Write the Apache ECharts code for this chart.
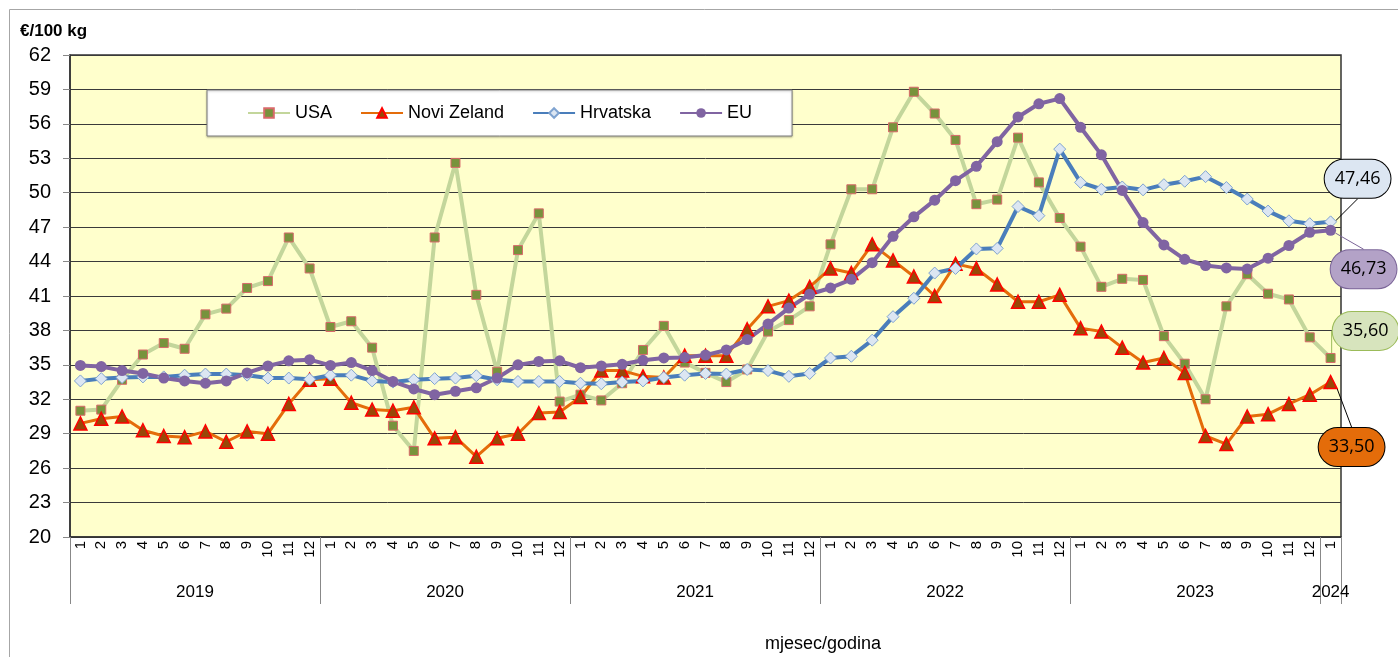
<!DOCTYPE html>
<html>
<head>
<meta charset="utf-8">
<script src="https://cdn.jsdelivr.net/npm/echarts@6/dist/echarts.min.js"></script>
<style>
  html, body { margin: 0; padding: 0; background: #fff; }
  #chart { width: 1398px; height: 657px; }
</style>
</head>
<body>
<div id="chart"></div>
<script>
// categories
const years = ['2019', '2020', '2021', '2022', '2023', '2024']
const monthsPerYear = [12, 12, 12, 12, 12, 1]
const yTicks = { min: 20, max: 62, step: 3 }

// series values (€/100 kg)
const usa = [31.0, 31.1, 33.7, 35.9, 36.9, 36.4, 39.4, 39.9, 41.7, 42.3, 46.1, 43.4,
  38.3, 38.8, 36.5, 29.7, 27.5, 46.1, 52.6, 41.1, 34.4, 45.0, 48.2, 31.8,
  32.4, 31.9, 33.4, 36.3, 38.4, 35.2, 34.3, 33.5, 34.6, 37.9, 38.9, 40.1,
  45.5, 50.3, 50.3, 55.7, 58.8, 56.9, 54.6, 49.0, 49.4, 54.8, 50.9, 47.8,
  45.3, 41.8, 42.5, 42.4, 37.5, 35.1, 32.0, 40.1, 42.9, 41.2, 40.7, 37.4, 35.60]
const noviZeland = [29.9, 30.3, 30.5, 29.3, 28.8, 28.7, 29.2, 28.3, 29.2, 29.0, 31.6, 33.7,
  33.8, 31.7, 31.1, 31.0, 31.3, 28.6, 28.7, 27.0, 28.6, 29.0, 30.8, 30.9,
  32.2, 34.5, 34.5, 34.0, 33.9, 35.8, 35.8, 35.8, 38.1, 40.1, 40.6, 41.8,
  43.4, 43.0, 45.5, 44.1, 42.7, 41.0, 43.8, 43.4, 42.0, 40.5, 40.5, 41.1,
  38.2, 37.9, 36.5, 35.2, 35.6, 34.3, 28.8, 28.1, 30.5, 30.7, 31.6, 32.4, 33.50]
const hrvatska = [33.6, 33.8, 33.9, 33.95, 33.95, 34.1, 34.2, 34.2, 34.1, 33.85, 33.85, 33.75,
  34.1, 34.1, 33.6, 33.5, 33.7, 33.8, 33.85, 34.05, 33.7, 33.55, 33.55, 33.55,
  33.4, 33.35, 33.5, 33.6, 33.9, 34.1, 34.25, 34.2, 34.6, 34.5, 34.0, 34.25,
  35.6, 35.75, 37.15, 39.2, 40.8, 43.0, 43.4, 45.1, 45.15, 48.8, 48.0, 53.8,
  50.9, 50.3, 50.5, 50.25, 50.7, 51.0, 51.4, 50.45, 49.45, 48.4, 47.55, 47.3, 47.46]
const eu = [34.95, 34.85, 34.5, 34.25, 33.85, 33.6, 33.4, 33.6, 34.3, 34.9, 35.35, 35.45,
  34.95, 35.2, 34.5, 33.55, 32.9, 32.4, 32.7, 33.0, 33.85, 35.0, 35.3, 35.35,
  34.75, 34.9, 35.05, 35.4, 35.6, 35.65, 35.85, 36.3, 37.2, 38.55, 39.95, 41.15,
  41.7, 42.45, 43.9, 46.2, 47.9, 49.35, 51.05, 52.3, 54.45, 56.6, 57.75, 58.2,
  55.7, 53.3, 50.2, 47.4, 45.45, 44.2, 43.65, 43.45, 43.35, 44.3, 45.4, 46.55, 46.73]

// month labels and year boundaries built from the arrays above
const months = []
const yearBounds = [0]
const yearMids = []
monthsPerYear.forEach(n => {
  for (let m = 1; m <= n; m++) months.push(String(m))
  const start = yearBounds[yearBounds.length - 1]
  yearMids.push(start + n / 2)
  yearBounds.push(start + n)
})
const total = months.length

const fmt = v => v.toFixed(2).replace('.', ',')

// show a callout only on the last point of a series
function withCallout(values, bg, border, dx, dy) {
  return {
    data: values.map((v, i) => i < values.length - 1 ? v : {
      value: v,
      label: {
        show: true,
        position: 'inside',
        formatter: fmt(v),
        color: '#000',
        fontFamily: 'Open Sans',
        fontSize: 18,
        backgroundColor: bg,
        borderColor: border,
        borderWidth: 1,
        borderRadius: 21,
        padding: [10, 10, 10, 10]
      }
    }),
    labelLayout: { dx: dx, dy: dy },
    labelLine: { show: true, lineStyle: { color: border, width: 1 } }
  }
}

const chart = echarts.init(document.getElementById('chart'))

chart.setOption({
  animation: false,
  textStyle: { fontFamily: 'Liberation Sans' },
  graphic: [{
    type: 'rect',
    left: 7, top: 7,
    shape: { width: 1420, height: 680 },
    style: { fill: 'none', stroke: '#a6a6a6', lineWidth: 1 },
    silent: true
  }],
  title: [
    { text: '€/100 kg', left: 15, top: 18, textStyle: { fontSize: 17, fontWeight: 'bold', color: '#000', fontFamily: 'Liberation Sans' } },
    { text: 'mjesec/godina', left: 760, top: 630, textStyle: { fontSize: 18, fontWeight: 'normal', color: '#000', fontFamily: 'Liberation Sans' } }
  ],
  legend: {
    left: 207,
    top: 90,
    padding: [14, 40, 14, 40],
    itemGap: 28,
    itemWidth: 42,
    itemHeight: 12,
    backgroundColor: '#fff',
    borderColor: '#7f7f7f',
    borderWidth: 1,
    shadowColor: 'rgba(0,0,0,0.25)',
    shadowBlur: 2,
    shadowOffsetY: 1,
    textStyle: { fontSize: 18, color: '#000', fontFamily: 'Liberation Sans' },
    data: ['USA', 'Novi Zeland', 'Hrvatska', 'EU']
  },
  grid: {
    left: 70, right: 57, top: 55, bottom: 120,
    show: true,
    backgroundColor: '#ffffcc',
    borderColor: '#333',
    borderWidth: 1.5
  },
  xAxis: [{
    type: 'category',
    data: months,
    boundaryGap: true,
    axisLine: { lineStyle: { color: '#333', width: 1.5 } },
    axisTick: { interval: 0, length: 51, lineStyle: { color: '#888' } },
    axisLabel: { interval: 0, rotate: 90, margin: 4, fontSize: 15, color: '#000' },
    splitLine: { show: false }
  }, {
    type: 'value',
    min: 0,
    max: total,
    position: 'bottom',
    axisLine: { show: false },
    axisTick: { show: true, length: 67, customValues: yearBounds, lineStyle: { color: '#888' } },
    axisLabel: {
      customValues: yearMids,
      margin: 47,
      fontSize: 17,
      color: '#000',
      formatter: v => years[yearMids.indexOf(v)] || ''
    },
    splitLine: { show: false }
  }],
  yAxis: {
    type: 'value',
    min: yTicks.min,
    max: yTicks.max,
    interval: yTicks.step,
    axisLine: { show: true, lineStyle: { color: '#333', width: 1.5 } },
    axisTick: { show: true, length: 7, lineStyle: { color: '#888' } },
    axisLabel: { fontSize: 20, color: '#000', margin: 19 },
    splitLine: { lineStyle: { color: '#3a3a3a', width: 1 } }
  },
  series: [
    Object.assign({
      name: 'USA',
      type: 'line',
      showAllSymbol: true,
      symbol: 'rect',
      symbolSize: 9,
      lineStyle: { color: '#c3d69b', width: 4 },
      itemStyle: { color: '#77933c', borderColor: '#d9696a', borderWidth: 1 }
    }, withCallout(usa, '#d7e4bd', '#9bbb59', 35, -27)),
    Object.assign({
      name: 'Novi Zeland',
      type: 'line',
      showAllSymbol: true,
      symbol: 'triangle',
      symbolSize: 13,
      lineStyle: { color: '#e46c0a', width: 3 },
      itemStyle: { color: '#984807', borderColor: '#ff0000', borderWidth: 1.5 }
    }, withCallout(noviZeland, '#e46c0a', '#000', 21, 65)),
    Object.assign({
      name: 'Hrvatska',
      type: 'line',
      showAllSymbol: true,
      symbol: 'diamond',
      symbolSize: 12,
      lineStyle: { color: '#4a7ebb', width: 4 },
      itemStyle: { color: '#dce6f2', borderColor: '#7fa3d0', borderWidth: 1 }
    }, withCallout(hrvatska, '#dce6f2', '#000', 27, -43)),
    Object.assign({
      name: 'EU',
      type: 'line',
      showAllSymbol: true,
      symbol: 'circle',
      symbolSize: 11,
      lineStyle: { color: '#8064a2', width: 4 },
      itemStyle: { color: '#8064a2' }
    }, withCallout(eu, '#b3a2c7', '#7b6598', 33, 39))
  ]
})
</script>
</body>
</html>
